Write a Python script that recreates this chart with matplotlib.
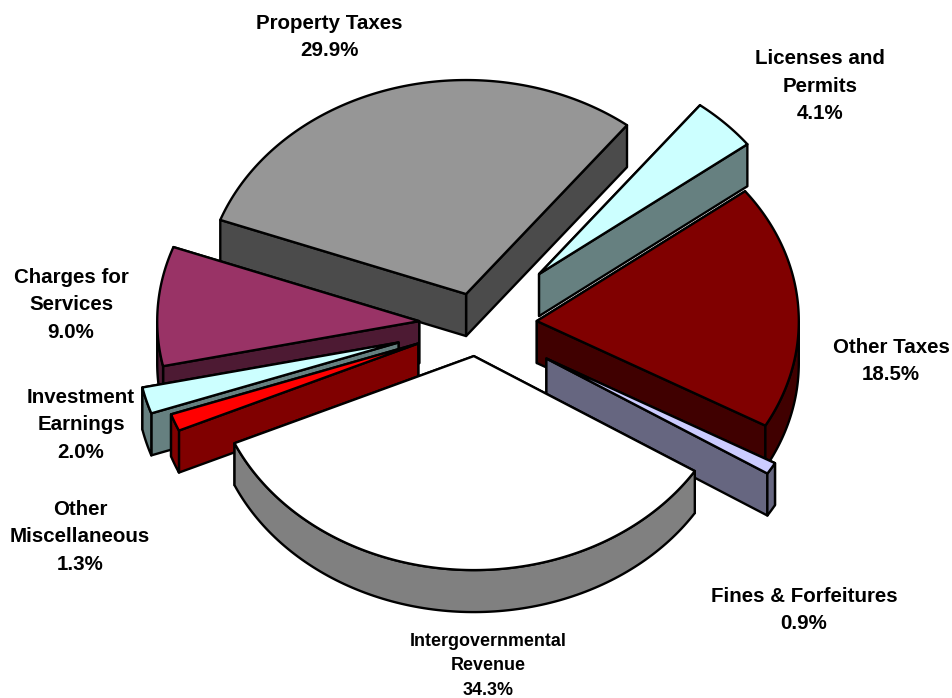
import numpy as np
import matplotlib
matplotlib.use("Agg")
import matplotlib.pyplot as plt
from matplotlib.patches import Polygon

plt.rcParams['font.family'] = ['Liberation Sans', 'DejaVu Sans']

# clockwise from the Licenses slice
categories = ["Licenses and\nPermits", "Other Taxes", "Fines & Forfeitures",
              "Intergovernmental\nRevenue", "Other\nMiscellaneous",
              "Investment\nEarnings", "Charges for\nServices", "Property Taxes"]
shares = [4.1, 18.5, 0.9, 34.3, 1.3, 2.0, 9.0, 29.9]

top_colors = ["#ccffff", "#800000", "#ccccff", "#ffffff", "#ff0000", "#ccffff", "#993366", "#969696"]
side_colors = ["#668080", "#400000", "#666680", "#808080", "#800000", "#668080", "#4d1a33", "#4b4b4b"]
explode = [0.335, 0.23, 0.31, 0.148, 0.24, 0.31, 0.22, 0.148]
draw_order = [7, 1, 0, 6, 5, 4, 2, 3]

label_pos = [(820, 86), (891, 361), (804, 610), (488, 666), (80, 537), (81, 425), (71, 305), (329, 37)]
label_size = [14.8, 14.8, 14.8, 12.9, 14.8, 14.8, 14.8, 14.8]

start_angle = 37.9
cx, cy = 476.7, 324.5
rx, ry = 262, 214
depth = 42

fig = plt.figure(figsize=(9.53, 6.98), dpi=100)
ax = fig.add_axes([0, 0, 1, 1])
ax.set_xlim(0, 953)
ax.set_ylim(698, 0)
ax.axis('off')


def slice_outline(a0, a1, ox, oy):
    t = np.radians(np.linspace(a0, a1, 120))
    return ox + rx * np.sin(t), oy - ry * np.cos(t)


def wall(xs, ys):
    return np.column_stack([np.r_[xs, xs[::-1]], np.r_[ys, ys[::-1] + depth]])


edges = start_angle + np.r_[0, np.cumsum(shares)] * 3.6
for i in draw_order:
    a0, a1 = edges[i], edges[i + 1]
    mid = np.radians((a0 + a1) / 2)
    ox = cx + explode[i] * rx * np.sin(mid)
    oy = cy - explode[i] * ry * np.cos(mid)
    xs, ys = slice_outline(a0, a1, ox, oy)
    style = dict(edgecolor='black', linewidth=1.7, joinstyle='round')
    # the two cut faces, the higher one first, then the rim that faces the viewer
    ends = sorted([(xs[0], ys[0]), (xs[-1], ys[-1])], key=lambda p: p[1])
    for x_end, y_end in ends:
        ax.add_patch(Polygon(wall(np.array([ox, x_end]), np.array([oy, y_end])),
                             facecolor=side_colors[i], **style))
    front = ys > oy
    if front.any():
        ax.add_patch(Polygon(wall(xs[front], ys[front]), facecolor=side_colors[i], **style))
    ax.add_patch(Polygon(np.column_stack([np.r_[ox, xs], np.r_[oy, ys]]),
                         facecolor=top_colors[i], **style))

for i, name in enumerate(categories):
    x, y = label_pos[i]
    ax.text(x, y, f"{name}\n{shares[i]:.1f}%", ha='center', va='center', fontweight='bold',
            fontsize=label_size[i], linespacing=1.56, color='black')

fig.savefig("out.png", dpi=100)
